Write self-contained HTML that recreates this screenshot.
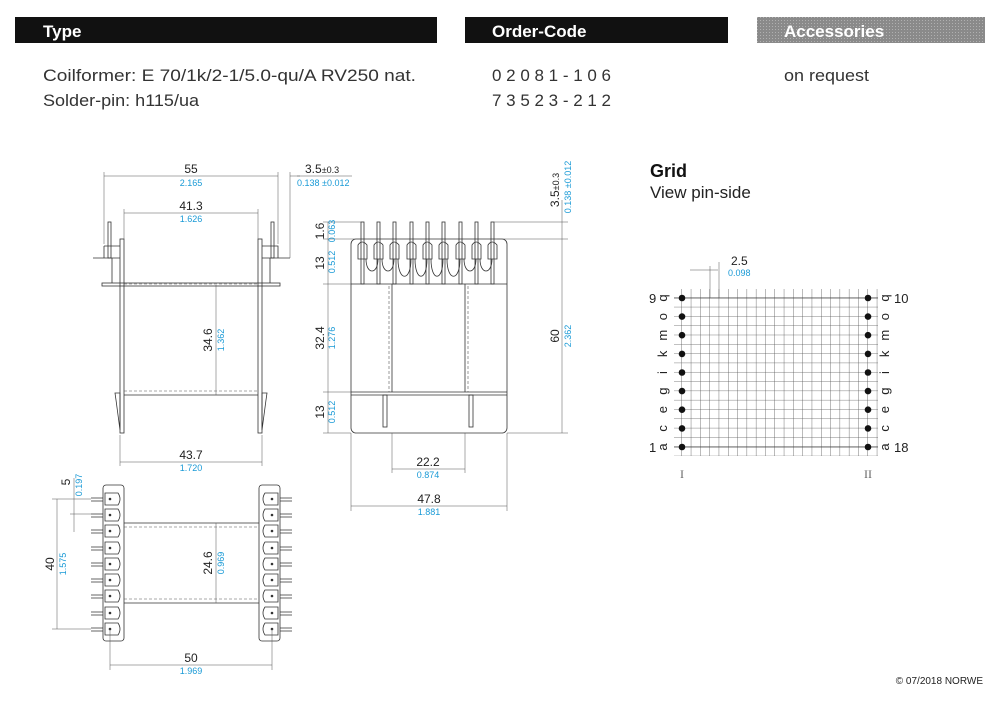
<!DOCTYPE html>
<html><head><meta charset="utf-8"><style>
html,body{margin:0;padding:0;background:#fff;}
svg{display:block;font-family:"Liberation Sans",sans-serif;}
.k{fill:#222;font-size:12px;}
.b{fill:#1a9ad6;font-size:9px;}
.l{stroke:#333;stroke-width:0.8;fill:none;}
.t{stroke:#555;stroke-width:0.5;fill:none;}
.d{stroke:#555;stroke-width:0.6;fill:none;stroke-dasharray:3,2;}
</style></head><body>
<svg width="1000" height="702" viewBox="0 0 1000 702" xmlns="http://www.w3.org/2000/svg">
<defs>
<pattern id="gp" patternUnits="userSpaceOnUse" x="757" y="17" width="3" height="3"><rect width="3" height="3" fill="#8a8a8a"/><rect width="1" height="1" fill="#b0b0b0"/></pattern>
<pattern id="grid" patternUnits="userSpaceOnUse" x="681.5" y="297.5" width="9.3" height="9.31"><path d="M0 0V9.31M0 0H9.3" stroke="#555" stroke-width="0.8" fill="none"/></pattern>
</defs>
<rect x="15" y="17" width="422" height="26" fill="#111"/>
<rect x="465" y="17" width="263" height="26" fill="#111"/>
<rect x="757" y="17" width="228" height="26" fill="url(#gp)"/>
<text x="43" y="37" fill="#fff" font-size="17" font-weight="bold">Type</text>
<text x="492" y="37" fill="#fff" font-size="17" font-weight="bold">Order-Code</text>
<text x="784" y="37" fill="#fff" font-size="17" font-weight="bold">Accessories</text>
<g fill="#333" font-size="17">
<text x="43" y="81" textLength="373" lengthAdjust="spacingAndGlyphs">Coilformer:  E 70/1k/2-1/5.0-qu/A RV250 nat.</text>
<text x="43" y="106" textLength="156" lengthAdjust="spacingAndGlyphs">Solder-pin:  h115/ua</text>
<text x="492" y="81" textLength="119" lengthAdjust="spacing">02081-106</text>
<text x="492" y="106" textLength="119" lengthAdjust="spacing">73523-212</text>
<text x="784" y="81" textLength="85" lengthAdjust="spacingAndGlyphs">on request</text>
</g>
<text x="650" y="177" fill="#111" font-size="18" font-weight="bold">Grid</text>
<text x="650" y="198" fill="#222" font-size="17">View pin-side</text>
<text x="983" y="684" fill="#222" font-size="10" text-anchor="end">© 07/2018 NORWE</text>

<g class="l">
<rect x="120" y="239" width="4" height="194"/>
<rect x="258" y="239" width="4" height="194"/>
<rect x="102" y="283" width="178" height="3"/>
<line x1="124" y1="395" x2="258" y2="395"/>
<rect x="108" y="222" width="3" height="36"/><rect x="271" y="222" width="3" height="36"/>
<path d="M104 246H120M104 246V258M93 258H120M262 246H278V258H290M262 258H278"/>
<path d="M112 258V283M270 258V283"/>
<path d="M115 393L120 393L120 430L116 400ZM267 393L262 393L262 430L266 400Z"/>
</g>
<path class="d" d="M124 284H258M124 391H258"/>
<g class="t">
<path d="M104 172V244M278 172V244M104 176H278M290 176H300M290 172V258"/>
<path d="M124 209V239M258 209V239M124 213H258"/>
<path d="M216 285V395M120 435V466M262 435V466M120 462H262"/>
</g>
<text class="k" x="191" y="173" text-anchor="middle">55</text><text class="b" x="191" y="186" text-anchor="middle">2.165</text>
<text class="k" x="191" y="210" text-anchor="middle">41.3</text><text class="b" x="191" y="222" text-anchor="middle">1.626</text>
<text class="k" x="191" y="459" text-anchor="middle">43.7</text><text class="b" x="191" y="471" text-anchor="middle">1.720</text>
<text class="k" x="305" y="173">3.5<tspan font-size="9">±0.3</tspan></text>
<text class="b" x="297" y="186">0.138 ±0.012</text>
<path class="t" d="M297 176H352"/>
<text class="k" transform="translate(212 340) rotate(-90)" text-anchor="middle">34.6</text>
<text class="b" transform="translate(224 340) rotate(-90)" text-anchor="middle">1.362</text>

<g class="l">
<rect x="351" y="239" width="156" height="194" rx="5"/>
<line x1="351" y1="284" x2="507" y2="284"/>
<line x1="351" y1="392" x2="507" y2="392"/>
<line x1="351" y1="395" x2="507" y2="395"/>
<line x1="392" y1="284" x2="392" y2="392"/><line x1="465" y1="284" x2="465" y2="392"/>
<rect x="383" y="395" width="4" height="32"/><rect x="469" y="395" width="4" height="32"/>
<path d="M366 259C366 275 378 275 378 259M382 259C382 275 394 275 394 259M398 259C398 282 411 282 411 259M415 259C415 282 427 282 427 259M431 259C431 282 443 282 443 259M447 259C447 282 460 282 460 259M464 259C464 275 476 275 476 259M480 259C480 275 492 275 492 259"/>
</g>
<path class="d" d="M389 286V392M468 286V392"/>
<g class="l">
<rect x="361" y="222" width="3" height="62"/><rect x="377" y="222" width="3" height="62"/><rect x="393" y="222" width="3" height="62"/><rect x="410" y="222" width="3" height="62"/><rect x="426" y="222" width="3" height="62"/><rect x="442" y="222" width="3" height="62"/><rect x="459" y="222" width="3" height="62"/><rect x="475" y="222" width="3" height="62"/><rect x="491" y="222" width="3" height="62"/>
<path d="M358 259V245Q362 239 367 245V259ZM374 259V245Q378 239 383 245V259ZM390 259V245Q394 239 399 245V259ZM407 259V245Q411 239 416 245V259ZM423 259V245Q427 239 432 245V259ZM439 259V245Q443 239 448 245V259ZM456 259V245Q460 239 465 245V259ZM472 259V245Q476 239 481 245V259ZM488 259V245Q492 239 497 245V259Z"/>
</g>
<g class="t">
<path d="M323 239H361M323 284H351M323 392H351M323 433H351M328 222V433M323 222H361"/>
<path d="M494 222H568M497 239H568M507 433H568M562 222V433M562 200V222"/>
<path d="M392 433V473M465 433V473M392 469H465M351 433V511M507 433V511M351 506H507"/>
</g>
<text class="k" transform="translate(324 231) rotate(-90)" text-anchor="middle">1.6</text><text class="b" transform="translate(335 231) rotate(-90)" text-anchor="middle">0.063</text>
<text class="k" transform="translate(324 263) rotate(-90)" text-anchor="middle">13</text><text class="b" transform="translate(335 262) rotate(-90)" text-anchor="middle">0.512</text>
<text class="k" transform="translate(324 338) rotate(-90)" text-anchor="middle">32.4</text><text class="b" transform="translate(335 338) rotate(-90)" text-anchor="middle">1.276</text>
<text class="k" transform="translate(324 412) rotate(-90)" text-anchor="middle">13</text><text class="b" transform="translate(335 412) rotate(-90)" text-anchor="middle">0.512</text>
<text class="k" transform="translate(559 336) rotate(-90)" text-anchor="middle">60</text><text class="b" transform="translate(571 336) rotate(-90)" text-anchor="middle">2.362</text>
<text class="k" transform="translate(559 190) rotate(-90)" text-anchor="middle">3.5<tspan font-size="9">±0.3</tspan></text>
<text class="b" transform="translate(571 187) rotate(-90)" text-anchor="middle">0.138 ±0.012</text>
<text class="k" x="428" y="466" text-anchor="middle">22.2</text><text class="b" x="428" y="478" text-anchor="middle">0.874</text>
<text class="k" x="429" y="503" text-anchor="middle">47.8</text><text class="b" x="429" y="515" text-anchor="middle">1.881</text>

<g class="l">
<rect x="103" y="485" width="21" height="156" rx="3"/>
<rect x="259" y="485" width="21" height="156" rx="3"/>
<line x1="124" y1="523" x2="259" y2="523"/><line x1="124" y1="603" x2="259" y2="603"/>
</g>
<path class="d" d="M124 527H259M124 599H259"/>
<path class="t" d="M216 523V603"/>
<g class="l">
<path d="M105 493H118Q122 499 118 505H105ZM105 509H118Q122 515 118 521H105ZM105 525H118Q122 531 118 537H105ZM105 542H118Q122 548 118 554H105ZM105 558H118Q122 564 118 570H105ZM105 574H118Q122 580 118 586H105ZM105 590H118Q122 596 118 602H105ZM105 607H118Q122 613 118 619H105ZM105 623H118Q122 629 118 635H105Z"/>
<path d="M278 493H265Q261 499 265 505H278ZM278 509H265Q261 515 265 521H278ZM278 525H265Q261 531 265 537H278ZM278 542H265Q261 548 265 554H278ZM278 558H265Q261 564 265 570H278ZM278 574H265Q261 580 265 586H278ZM278 590H265Q261 596 265 602H278ZM278 607H265Q261 613 265 619H278ZM278 623H265Q261 629 265 635H278Z"/>
<path d="M91 498H103M91 501H103M91 514H103M91 517H103M91 530H103M91 533H103M91 547H103M91 550H103M91 563H103M91 566H103M91 579H103M91 582H103M91 595H103M91 598H103M91 612H103M91 615H103M91 628H103M91 631H103"/>
<path d="M280 498H292M280 501H292M280 514H292M280 517H292M280 530H292M280 533H292M280 547H292M280 550H292M280 563H292M280 566H292M280 579H292M280 582H292M280 595H292M280 598H292M280 612H292M280 615H292M280 628H292M280 631H292"/>
</g>
<g fill="#333">
<circle cx="110" cy="499" r="1.3"/><circle cx="110" cy="515" r="1.3"/><circle cx="110" cy="531" r="1.3"/><circle cx="110" cy="548" r="1.3"/><circle cx="110" cy="564" r="1.3"/><circle cx="110" cy="580" r="1.3"/><circle cx="110" cy="596" r="1.3"/><circle cx="110" cy="613" r="1.3"/><circle cx="110" cy="629" r="1.3"/>
<circle cx="272" cy="499" r="1.3"/><circle cx="272" cy="515" r="1.3"/><circle cx="272" cy="531" r="1.3"/><circle cx="272" cy="548" r="1.3"/><circle cx="272" cy="564" r="1.3"/><circle cx="272" cy="580" r="1.3"/><circle cx="272" cy="596" r="1.3"/><circle cx="272" cy="613" r="1.3"/><circle cx="272" cy="629" r="1.3"/>
</g>
<g class="t">
<path d="M52 499H91M52 629H91M57 499V629M70 514H91M74 478V532"/>
<path d="M110 629V670M272 629V670M110 665H272"/>
</g>
<text class="k" transform="translate(54 564) rotate(-90)" text-anchor="middle">40</text><text class="b" transform="translate(66 564) rotate(-90)" text-anchor="middle">1.575</text>
<text class="k" transform="translate(70 482) rotate(-90)" text-anchor="middle">5</text><text class="b" transform="translate(82 485) rotate(-90)" text-anchor="middle">0.197</text>
<text class="k" transform="translate(212 563) rotate(-90)" text-anchor="middle">24.6</text><text class="b" transform="translate(224 563) rotate(-90)" text-anchor="middle">0.969</text>
<text class="k" x="191" y="662" text-anchor="middle">50</text><text class="b" x="191" y="674" text-anchor="middle">1.969</text>

<rect x="674" y="289" width="204" height="167" fill="url(#grid)"/>
<path d="M674 298H878M674 447H878" stroke="#444" stroke-width="0.8"/>
<path class="t" d="M690 270H718M710 266V298M719 262V298"/>
<text class="k" x="731" y="265">2.5</text><text class="b" x="728" y="276">0.098</text>
<g fill="#111">
<circle cx="682" cy="298" r="3.3"/><circle cx="682" cy="316.6" r="3.3"/><circle cx="682" cy="335.2" r="3.3"/><circle cx="682" cy="353.9" r="3.3"/><circle cx="682" cy="372.5" r="3.3"/><circle cx="682" cy="391.1" r="3.3"/><circle cx="682" cy="409.7" r="3.3"/><circle cx="682" cy="428.4" r="3.3"/><circle cx="682" cy="447" r="3.3"/>
<circle cx="868" cy="298" r="3.3"/><circle cx="868" cy="316.6" r="3.3"/><circle cx="868" cy="335.2" r="3.3"/><circle cx="868" cy="353.9" r="3.3"/><circle cx="868" cy="372.5" r="3.3"/><circle cx="868" cy="391.1" r="3.3"/><circle cx="868" cy="409.7" r="3.3"/><circle cx="868" cy="428.4" r="3.3"/><circle cx="868" cy="447" r="3.3"/>
</g>
<g fill="#222" font-size="13">
<text x="649" y="303">9</text><text x="649" y="452">1</text>
<text x="894" y="303">10</text><text x="894" y="452">18</text>
<text transform="translate(667 298) rotate(-90)" text-anchor="middle">q</text>
<text transform="translate(667 316.6) rotate(-90)" text-anchor="middle">o</text>
<text transform="translate(667 335.2) rotate(-90)" text-anchor="middle">m</text>
<text transform="translate(667 353.9) rotate(-90)" text-anchor="middle">k</text>
<text transform="translate(667 372.5) rotate(-90)" text-anchor="middle">i</text>
<text transform="translate(667 391.1) rotate(-90)" text-anchor="middle">g</text>
<text transform="translate(667 409.7) rotate(-90)" text-anchor="middle">e</text>
<text transform="translate(667 428.4) rotate(-90)" text-anchor="middle">c</text>
<text transform="translate(667 447) rotate(-90)" text-anchor="middle">a</text>
<text transform="translate(889 298) rotate(-90)" text-anchor="middle">q</text>
<text transform="translate(889 316.6) rotate(-90)" text-anchor="middle">o</text>
<text transform="translate(889 335.2) rotate(-90)" text-anchor="middle">m</text>
<text transform="translate(889 353.9) rotate(-90)" text-anchor="middle">k</text>
<text transform="translate(889 372.5) rotate(-90)" text-anchor="middle">i</text>
<text transform="translate(889 391.1) rotate(-90)" text-anchor="middle">g</text>
<text transform="translate(889 409.7) rotate(-90)" text-anchor="middle">e</text>
<text transform="translate(889 428.4) rotate(-90)" text-anchor="middle">c</text>
<text transform="translate(889 447) rotate(-90)" text-anchor="middle">a</text>
</g>
<g fill="#666" font-size="12" font-family="Liberation Serif,serif">
<text x="682" y="478" text-anchor="middle">I</text><text x="868" y="478" text-anchor="middle">II</text>
</g>
</svg>
</body></html>
